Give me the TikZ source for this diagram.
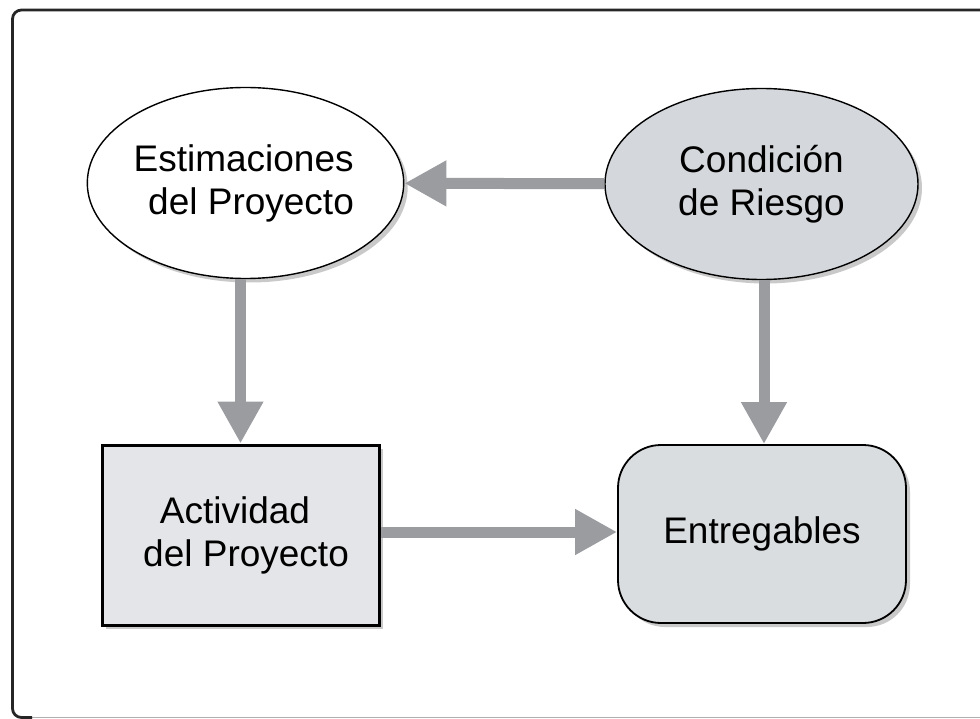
\documentclass[tikz,border=0pt]{standalone}
\usepackage{fontspec}
\setmainfont{Liberation Sans}
\usetikzlibrary{shapes.geometric,arrows.meta,shadows}
\definecolor{arrgray}{RGB}{155,156,160}
\definecolor{ovalgray}{RGB}{212,215,219}
\definecolor{boxgray}{RGB}{227,229,232}
\definecolor{roundgray}{RGB}{218,221,224}
\definecolor{framegray}{RGB}{175,175,175}
\begin{document}
\begin{tikzpicture}[x=1pt,y=-1pt,
  lbl/.style={font=\fontsize{37}{43}\selectfont, align=center, text=black},
  shad/.style={drop shadow={opacity=0.35, shadow xshift=4pt, shadow yshift=-4pt, fill=black!60}},
  oval/.style={ellipse, draw=black, line width=1.4pt, minimum width=313pt, minimum height=191pt, inner sep=0pt, shad, lbl},
  sqbox/.style={rectangle, draw=black, line width=3pt, minimum width=277pt, minimum height=180pt, inner sep=0pt, fill=boxgray, shad, lbl},
  rbox/.style={rectangle, rounded corners=43pt, draw=black, line width=1.8pt, minimum width=288pt, minimum height=178pt, inner sep=0pt, fill=roundgray, shad, lbl},
  arr/.style={draw=arrgray, line width=11pt, -{Triangle[length=42pt, width=43pt]}}
]
\useasboundingbox (0,0) rectangle (980,719);
\clip (0,0) rectangle (980,719);
\fill[white] (0,0) rectangle (980,719);
% frame
\draw[framegray, line width=1.2pt] (30,717.5) -- (995,717.5);
\draw[black!85, line width=2.8pt, rounded corners=9pt] (995,10) -- (12.5,10) -- (12.5,717.5) -- (32,717.5);
% nodes
\node[oval, fill=white] (est) at (245.5,183) {Estimaciones\hspace*{0.1em}\\\hspace*{0.3em}del Proyecto};
\node[oval, fill=ovalgray] (cond) at (761.5,184) {Condición\\de Riesgo};
\node[sqbox] (act) at (240.5,535) {Actividad\hspace*{0.3em}\\\hspace*{0.3em}del Proyecto};
\node[rbox] (ent) at (762,534) {Entregables};
% connectors
\draw[arr] (cond) -- (est);
\draw[arr] (est.south -| act.north) -- (act.north);
\draw[arr] (cond.south -| 764,0) -- (ent.north -| 764,0);
\draw[arr] (act.east |- 0,532) -- (ent.west |- 0,532);
\end{tikzpicture}
\end{document}
